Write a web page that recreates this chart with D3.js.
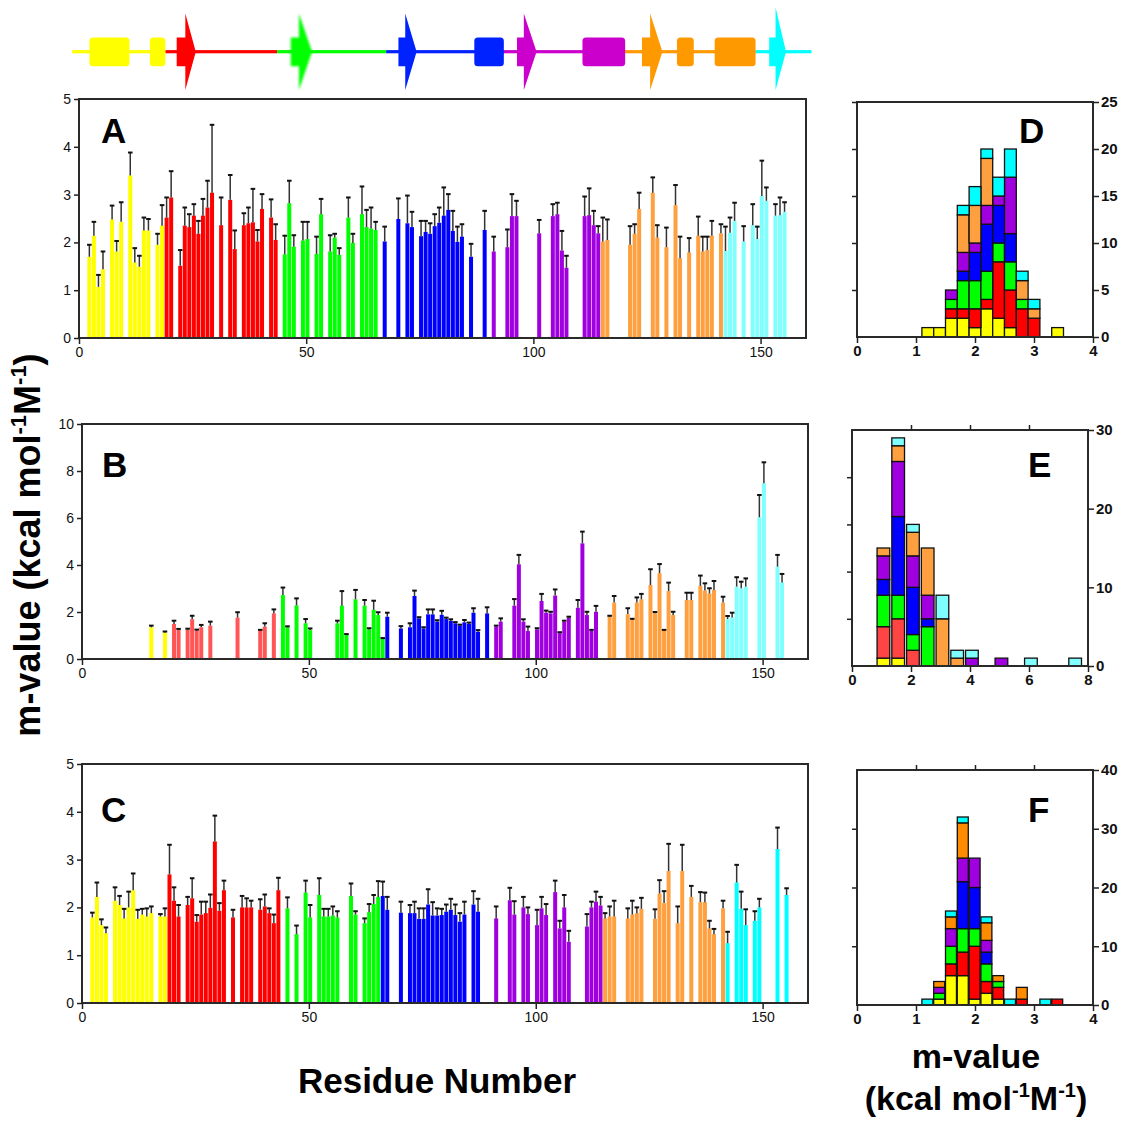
<!DOCTYPE html>
<html>
<head>
<meta charset="utf-8">
<script src="https://cdn.jsdelivr.net/npm/d3@7"></script>
<style>
  body { margin: 0; background: #fff; }
  svg { display: block; }
</style>
</head>
<body>
<svg id="fig" width="1124" height="1122"></svg>
<script>
// ---------- structural element groups (N- to C-terminus) ----------
const groups = ["yellow", "red", "green", "blue", "purple", "orange", "cyan"];

// first residue of each group, per panel
const segStartsA = [1, 19, 44, 66, 90, 115, 142];
const segStartsB = [1, 19, 44, 67, 90, 115, 142];
const segStartsC = [1, 19, 44, 66, 90, 115, 142];

// ---------- topology cartoon (residue units) ----------
const topoBreaks = [-1.5, 19.0, 43.6, 67.6, 93.5, 120.2, 148.9, 161.2];
const helixStart = [2.3, 15.6, 87.0, 110.8, 131.6, 139.9];
const helixEnd   = [11.1, 19.0, 93.5, 120.2, 135.3, 148.9];
const helixGroup = ["yellow", "yellow", "blue", "purple", "orange", "orange"];
const strandStart = [21.5, 46.6, 70.3, 96.4, 123.9, 151.9];
const strandHead  = [23.4, 48.4, 71.8, 97.9, 125.7, 153.3];
const strandTip   = [25.7, 51.3, 74.3, 100.7, 128.4, 155.6];
const strandGroup = ["red", "green", "blue", "purple", "orange", "cyan"];

// ---------- panel A ----------
const resA = [2,3,4,5,7,8,9,11,12,13,14,15,17,18,19,20,22,23,24,25,26,27,28,29,31,33,34,36,37,38,39,40,42,43,
  45,46,47,49,50,52,53,55,56,57,59,60,62,63,64,65,67,70,72,73,75,76,77,78,79,80,81,82,83,84,86,89,
  91,94,95,96,101,104,105,106,107,111,112,113,114,115,116,121,122,123,126,127,129,131,132,134,136,137,138,139,141,
  142,143,144,146,148,149,150,151,153,154,155];
const valA = [1.70,2.14,1.07,1.44,2.48,1.81,2.43,3.40,1.58,1.49,2.25,2.25,1.95,2.35,2.52,2.94,1.51,2.35,2.32,2.56,2.18,2.56,2.73,3.04,2.36,2.89,1.86,2.36,2.40,2.42,2.02,2.70,2.52,2.05,
  1.75,2.82,1.91,2.04,2.07,1.76,2.59,1.81,2.10,1.74,2.52,1.99,2.59,2.32,2.29,2.26,2.02,2.49,2.40,2.32,2.13,2.22,2.18,2.34,2.41,2.56,2.68,2.24,2.01,2.12,1.70,2.26,
  1.81,1.90,2.55,2.55,2.19,2.55,2.59,1.83,1.47,2.55,2.57,2.36,2.19,2.02,2.05,1.95,2.18,2.70,3.04,2.10,1.90,2.78,1.67,1.79,2.14,1.81,1.84,2.14,2.19,
  1.82,2.20,2.45,2.02,2.36,2.07,2.97,2.87,2.56,2.57,2.64];
const errA = [0.25,0.29,0.25,0.37,0.29,0.22,0.41,0.48,0.30,0.23,0.27,0.24,0.23,0.43,0.42,0.55,0.33,0.38,0.27,0.24,0.27,0.35,0.56,1.42,0.58,0.52,0.39,0.25,0.33,0.70,0.24,0.31,0.38,0.33,
  0.39,0.47,0.24,0.39,0.36,0.36,0.32,0.34,0.08,0.14,0.42,0.19,0.58,0.36,0.44,0.17,0.31,0.43,0.58,0.32,0.32,0.23,0.22,0.25,0.32,0.59,0.33,0.42,0.32,0.26,0.27,0.40,
  0.31,0.37,0.46,0.32,0.28,0.25,0.24,0.41,0.25,0.41,0.56,0.30,0.15,0.50,0.43,0.39,0.20,0.34,0.32,0.26,0.41,0.42,0.45,0.30,0.40,0.31,0.28,0.31,0.19,
  0.51,0.32,0.38,0.32,0.44,0.26,0.74,0.28,0.24,0.37,0.20];

// ---------- panel B ----------
const resB = [15,18,20,21,23,24,25,26,28,34,39,40,42,44,45,47,49,50,56,57,58,60,62,63,64,65,66,
  67,70,72,73,74,75,76,77,78,79,80,81,82,83,84,85,86,87,89,
  91,92,95,96,97,98,100,101,102,103,104,105,106,107,109,110,111,112,113,
  116,117,120,121,122,123,125,126,127,128,129,130,133,134,136,137,138,139,141,
  142,143,144,145,146,149,150,153,154];
const valB = [1.35,1.13,1.49,1.23,1.24,1.69,1.20,1.35,1.42,1.76,1.20,1.38,1.94,2.72,1.35,2.28,1.52,1.23,1.52,2.27,1.02,2.54,2.27,1.26,2.09,1.87,0.85,
  1.80,1.30,1.35,2.68,1.73,1.30,1.90,1.90,1.59,1.88,1.70,1.62,1.52,1.42,1.56,1.49,1.97,1.16,1.94,
  1.38,1.59,2.27,4.03,1.59,1.19,1.26,2.47,1.97,1.94,2.70,1.10,1.58,1.76,2.18,4.92,1.87,1.20,2.01,
  1.80,2.40,1.91,1.66,2.40,2.54,3.15,1.95,3.65,1.20,2.89,1.87,2.51,2.51,3.11,2.91,2.79,2.94,2.40,
  1.70,1.77,3.08,3.01,3.08,6.03,7.48,3.93,3.26];
const errB = [0.07,0.04,0.14,0.05,0.05,0.15,0.05,0.10,0.17,0.23,0.04,0.14,0.17,0.32,0.04,0.30,0.18,0.07,0.11,0.62,0.04,0.40,0.24,0.05,0.39,0.12,0.04,
  0.17,0.10,0.17,0.23,0.05,0.05,0.21,0.21,0.06,0.17,0.06,0.07,0.05,0.04,0.10,0.06,0.19,0.07,0.26,
  0.04,0.14,0.28,0.40,0.10,0.19,0.05,0.30,0.09,0.07,0.26,0.04,0.05,0.04,0.33,0.50,0.14,0.04,0.25,
  0.04,0.28,0.25,0.05,0.22,0.23,0.67,0.05,0.39,0.04,0.36,0.14,0.31,0.31,0.44,0.31,0.22,0.38,0.25,
  0.13,0.20,0.40,0.28,0.35,0.95,0.89,0.50,0.36];

// ---------- panel C ----------
const resC = [2,3,4,5,7,8,9,10,11,12,13,14,15,17,18,19,20,21,23,24,25,26,27,28,29,30,31,33,35,36,37,39,40,41,42,43,
  45,47,49,50,52,53,54,55,56,59,60,62,63,64,65,66,67,70,72,73,74,75,76,77,78,79,80,81,82,83,84,86,87,
  91,94,95,97,98,100,101,102,104,105,106,107,111,112,113,114,115,116,117,120,121,122,123,126,127,128,129,131,132,134,136,137,138,139,141,
  142,144,145,146,148,149,153,155];
const valC = [1.79,2.22,1.63,1.46,2.14,2.05,1.77,2.00,2.36,1.76,1.85,1.81,1.88,1.81,1.81,2.69,2.14,1.81,2.05,2.19,1.70,1.85,1.88,1.99,3.38,1.93,2.36,1.79,2.00,2.00,2.00,1.95,2.02,1.88,1.67,2.36,
  1.98,1.44,2.31,1.79,2.26,1.81,1.81,1.83,1.79,2.24,1.85,1.67,1.90,2.07,2.22,2.24,1.95,1.89,1.88,1.88,1.76,1.76,2.06,1.83,1.83,1.84,1.91,1.95,1.84,1.70,1.85,2.06,1.91,
  1.77,2.15,1.85,2.00,1.86,1.63,1.98,1.84,2.32,1.56,2.00,1.28,1.60,2.00,2.12,2.04,1.77,1.81,1.81,1.77,1.85,1.88,1.97,1.76,2.29,2.09,2.76,1.67,2.76,2.22,2.11,2.11,1.56,1.44,1.98,
  1.25,2.52,1.97,1.63,1.72,2.00,3.22,2.26];
const errC = [0.10,0.30,0.12,0.12,0.28,0.19,0.20,0.33,0.35,0.19,0.12,0.17,0.14,0.05,0.17,0.62,0.28,0.24,0.17,0.42,0.14,0.27,0.24,0.28,0.54,0.16,0.20,0.16,0.24,0.19,0.14,0.22,0.25,0.10,0.18,0.26,
  0.23,0.18,0.25,0.26,0.35,0.16,0.16,0.19,0.13,0.26,0.07,0.10,0.17,0.19,0.33,0.30,0.27,0.23,0.17,0.24,0.22,0.22,0.32,0.28,0.15,0.13,0.15,0.23,0.22,0.18,0.27,0.28,0.27,
  0.25,0.26,0.28,0.22,0.14,0.32,0.24,0.23,0.24,0.16,0.26,0.23,0.26,0.12,0.21,0.18,0.11,0.21,0.33,0.21,0.29,0.12,0.23,0.20,0.28,0.25,0.57,0.35,0.55,0.23,0.21,0.20,0.16,0.11,0.16,
  0.24,0.37,0.36,0.33,0.20,0.18,0.45,0.14];

const residueTicks = [0, 50, 100, 150];

// ---------- histogram D (bins of 0.2) ----------
const binsD = [1.1, 1.3, 1.5, 1.7, 1.9, 2.1, 2.3, 2.5, 2.7, 2.9, 3.3];
const dYellow = [1, 1, 2, 2, 1, 3, 2, 1, 0, 0, 1];
const dRed    = [0, 0, 1, 1, 2, 1, 6, 4, 3, 2, 0];
const dGreen  = [0, 0, 1, 3, 3, 3, 2, 3, 1, 0, 0];
const dBlue   = [0, 0, 0, 1, 3, 5, 4, 3, 0, 0, 0];
const dPurple = [0, 0, 1, 2, 1, 2, 1, 6, 0, 0, 0];
const dOrange = [0, 0, 0, 4, 4, 5, 0, 0, 2, 1, 0];
const dCyan   = [0, 0, 0, 1, 2, 1, 2, 3, 1, 1, 0];

// ---------- histogram E (bins of 0.5) ----------
const binsE = [0.85, 1.35, 1.85, 2.35, 2.85, 3.35, 3.85, 4.85, 5.85, 7.35];
const eYellow = [1, 1, 0, 0, 0, 0, 0, 0, 0, 0];
const eRed    = [4, 5, 2, 0, 0, 0, 0, 0, 0, 0];
const eGreen  = [4, 3, 2, 5, 0, 0, 0, 0, 0, 0];
const eBlue   = [2, 10, 6, 1, 0, 0, 0, 0, 0, 0];
const ePurple = [3, 7, 4, 3, 0, 0, 1, 1, 0, 0];
const eOrange = [1, 2, 3, 6, 6, 1, 0, 0, 0, 0];
const eCyan   = [0, 1, 1, 0, 3, 1, 1, 0, 1, 1];

// ---------- histogram F (bins of 0.2) ----------
const binsF = [1.1, 1.3, 1.5, 1.7, 1.9, 2.1, 2.3, 2.5, 2.7, 3.1, 3.3];
const fYellow = [0, 1, 5, 5, 1, 2, 1, 0, 0, 0, 0];
const fRed    = [0, 0, 2, 4, 9, 2, 2, 0, 1, 0, 1];
const fGreen  = [0, 1, 3, 4, 3, 3, 1, 0, 0, 0, 0];
const fBlue   = [0, 0, 0, 8, 7, 2, 0, 0, 0, 0, 0];
const fPurple = [0, 1, 3, 4, 5, 2, 0, 0, 0, 0, 0];
const fOrange = [0, 1, 2, 6, 0, 3, 1, 0, 2, 0, 0];
const fCyan   = [1, 0, 1, 1, 0, 1, 0, 1, 0, 1, 0];

// ---------- colours ----------
const baseColours = { yellow: "#FFFF00", red: "#FF0000", green: "#00FF00", blue: "#0000FF",
                      purple: "#A000E0", orange: "#FFA040", cyan: "#80FFFF" };
const coloursA = baseColours;
const coloursB = Object.assign({}, baseColours, { red: "#FF5555" });
const coloursC = Object.assign({}, baseColours, { cyan: "#00FFFF" });
const coloursD = Object.assign({}, baseColours, { cyan: "#00FFFF" });
const coloursE = Object.assign({}, baseColours, { red: "#FF4444" });
const coloursF = Object.assign({}, baseColours, { orange: "#FF8C00", cyan: "#00FFFF" });
const topoColours = { yellow: "#FFFF00", red: "#FF0000", green: "#00FF00", blue: "#0022FF",
                      purple: "#CC00CC", orange: "#FF9900", cyan: "#00FFFF" };

const FONT = "'Liberation Sans', Arial, Helvetica, sans-serif";
const intFmt = d3.format("d");
const svg = d3.select("#fig");

const defs = svg.append("defs");
defs.append("filter").attr("id", "soft").attr("x", "-20%").attr("y", "-20%").attr("width", "140%").attr("height", "140%")
  .append("feGaussianBlur").attr("stdDeviation", 0.9);

function groupOf(r, starts) {
  let k = 0;
  starts.forEach((s, i) => { if (r >= s) k = i; });
  return groups[k];
}

function styleAxis(g, size, weight) {
  g.select(".domain").remove();
  g.selectAll(".tick line").attr("stroke", "#222").attr("stroke-width", 1.5);
  g.selectAll(".tick text").attr("fill", "#111").attr("font-size", size)
    .attr("font-weight", weight).attr("font-family", FONT);
}

// ---------- topology cartoon ----------
(function drawTopology() {
  const x = d3.scaleLinear().domain([0, 160]).range([79, 806]);
  const yMid = 51.7, lineHalf = 1.6;
  const helixTop = 37.5, helixBot = 66.3, headTop = 13.5, headBot = 90;
  const g = svg.append("g");

  const segs = groups.map((name, i) => ({ name, a: topoBreaks[i], b: topoBreaks[i + 1] }));
  g.selectAll("rect.loop").data(segs).join("rect")
    .attr("x", d => x(d.a)).attr("width", d => x(d.b) - x(d.a))
    .attr("y", yMid - lineHalf).attr("height", 2 * lineHalf)
    .attr("fill", d => topoColours[d.name]);

  const helices = helixStart.map((s, i) => ({ s, e: helixEnd[i], name: helixGroup[i] }));
  g.selectAll("rect.helix").data(helices).join("rect")
    .attr("x", d => x(d.s)).attr("width", d => x(d.e) - x(d.s))
    .attr("y", helixTop).attr("height", helixBot - helixTop)
    .attr("rx", 3.5).attr("fill", d => topoColours[d.name]);

  const strands = strandStart.map((s, i) => ({ s, h: strandHead[i], t: strandTip[i], name: strandGroup[i] }));
  g.selectAll("path.strand").data(strands).join("path")
    .attr("d", d => {
      const p = d3.path();
      p.moveTo(x(d.s), helixTop);
      p.lineTo(x(d.h), helixTop);
      p.lineTo(x(d.h), d.name === "cyan" ? headTop - 6 : headTop);
      p.lineTo(x(d.t), yMid);
      p.lineTo(x(d.h), headBot);
      p.lineTo(x(d.h), helixBot);
      p.lineTo(x(d.s), helixBot);
      p.closePath();
      return p.toString();
    })
    .attr("fill", d => topoColours[d.name])
    .attr("filter", d => d.name === "green" ? "url(#soft)" : null);
})();

// ---------- residue bar panels ----------
function barPanel(cfg) {
  const x = d3.scaleLinear().domain([0, 160]).range([cfg.left, cfg.right]);
  const y = d3.scaleLinear().domain([0, cfg.ymax]).range([cfg.bottom, cfg.top]);
  const g = svg.append("g");
  const data = cfg.res.map((r, i) => ({ r, v: cfg.val[i], e: cfg.err[i] }));
  const bw = x(0.88) - x(0);

  g.selectAll("rect.bar").data(data).join("rect")
    .attr("x", d => x(d.r - 0.16)).attr("width", bw)
    .attr("y", d => y(d.v)).attr("height", d => y(0) - y(d.v))
    .attr("fill", d => cfg.colours[groupOf(d.r, cfg.starts)]);

  const cx = d => x(d.r - 0.16) + bw / 2;
  g.selectAll("line.stem").data(data).join("line")
    .attr("x1", cx).attr("x2", cx)
    .attr("y1", d => y(d.v)).attr("y2", d => y(d.v + d.e))
    .attr("stroke", "#333").attr("stroke-width", 1.5);
  g.selectAll("line.cap").data(data).join("line")
    .attr("x1", d => cx(d) - 2.3).attr("x2", d => cx(d) + 2.3)
    .attr("y1", d => y(d.v + d.e)).attr("y2", d => y(d.v + d.e))
    .attr("stroke", "#111").attr("stroke-width", 2);

  g.append("rect")
    .attr("x", cfg.left).attr("y", cfg.top)
    .attr("width", cfg.right - cfg.left).attr("height", cfg.bottom - cfg.top)
    .attr("fill", "none").attr("stroke", "#2a2a2a").attr("stroke-width", 2);

  g.append("g").attr("transform", `translate(${cfg.left},0)`)
    .call(d3.axisLeft(y).tickValues(cfg.yticks).tickFormat(intFmt).tickSize(5).tickPadding(3).tickSizeOuter(0))
    .call(a => styleAxis(a, 14, "normal"));
  g.append("g").attr("transform", `translate(0,${cfg.bottom})`)
    .call(d3.axisBottom(x).tickValues(residueTicks).tickFormat(intFmt).tickSize(6).tickPadding(3).tickSizeOuter(0))
    .call(a => styleAxis(a, 14, "normal"));

  g.append("text").attr("x", cfg.labelX).attr("y", cfg.labelY)
    .attr("font-family", FONT).attr("font-weight", "bold").attr("font-size", 35)
    .text(cfg.label);
}

barPanel({ res: resA, val: valA, err: errA, starts: segStartsA, colours: coloursA,
  left: 79, right: 806, top: 99, bottom: 338, ymax: 5, yticks: [0, 1, 2, 3, 4, 5],
  label: "A", labelX: 101, labelY: 143 });
barPanel({ res: resB, val: valB, err: errB, starts: segStartsB, colours: coloursB,
  left: 82, right: 808, top: 424, bottom: 659, ymax: 10, yticks: [0, 2, 4, 6, 8, 10],
  label: "B", labelX: 102, labelY: 477 });
barPanel({ res: resC, val: valC, err: errC, starts: segStartsC, colours: coloursC,
  left: 82, right: 808, top: 764, bottom: 1003, ymax: 5, yticks: [0, 1, 2, 3, 4, 5],
  label: "C", labelX: 101, labelY: 822 });

// ---------- stacked histograms ----------
function histPanel(cfg) {
  const x = d3.scaleLinear().domain([0, cfg.xmax]).range([cfg.left, cfg.right]);
  const y = d3.scaleLinear().domain([0, cfg.ymax]).range([cfg.bottom, cfg.top]);
  const g = svg.append("g");

  const rows = cfg.bins.map((b, i) => {
    const row = { bin: b };
    groups.forEach((name, k) => { row[name] = cfg.counts[k][i]; });
    return row;
  });
  const series = d3.stack().keys(groups)(rows);

  series.forEach(s => {
    g.selectAll(null).data(s.filter(d => d[1] > d[0])).join("rect")
      .attr("x", d => x(d.data.bin))
      .attr("width", x(cfg.binWidth * cfg.fill) - x(0))
      .attr("y", d => y(d[1])).attr("height", d => y(d[0]) - y(d[1]))
      .attr("fill", cfg.colours[s.key])
      .attr("stroke", "#111").attr("stroke-width", 1.3);
  });

  g.append("rect")
    .attr("x", cfg.left).attr("y", cfg.top)
    .attr("width", cfg.right - cfg.left).attr("height", cfg.bottom - cfg.top)
    .attr("fill", "none").attr("stroke", "#2a2a2a").attr("stroke-width", 2);

  g.append("g").attr("transform", `translate(0,${cfg.bottom})`)
    .call(d3.axisBottom(x).tickValues(cfg.xticks).tickFormat(intFmt).tickSize(6).tickPadding(2).tickSizeOuter(0))
    .call(a => styleAxis(a, 15, "bold"));
  g.append("g").attr("transform", `translate(${cfg.right},0)`)
    .call(d3.axisRight(y).tickValues(cfg.rightTicks).tickFormat(intFmt).tickSize(6).tickPadding(2).tickSizeOuter(0))
    .call(a => styleAxis(a, 15, "bold"));
  g.append("g").attr("transform", `translate(${cfg.left},0)`)
    .call(d3.axisLeft(y).tickValues(cfg.leftTicks).tickSize(5).tickFormat("").tickSizeOuter(0))
    .call(a => styleAxis(a, 15, "bold"));
  g.append("g").attr("transform", `translate(0,${cfg.top})`)
    .call(d3.axisTop(x).tickValues(cfg.topTicks).tickSize(5).tickFormat("").tickSizeOuter(0))
    .call(a => styleAxis(a, 15, "bold"));

  g.append("text").attr("x", cfg.labelX).attr("y", cfg.labelY)
    .attr("font-family", FONT).attr("font-weight", "bold").attr("font-size", 35)
    .text(cfg.label);
}

histPanel({ bins: binsD, binWidth: 0.2, fill: 1,
  counts: [dYellow, dRed, dGreen, dBlue, dPurple, dOrange, dCyan], colours: coloursD,
  left: 857, right: 1093, top: 102, bottom: 337, xmax: 4, ymax: 25,
  xticks: [0, 1, 2, 3, 4], rightTicks: [0, 5, 10, 15, 20, 25], leftTicks: [5, 10, 15, 20, 25], topTicks: [],
  label: "D", labelX: 1019, labelY: 143 });
histPanel({ bins: binsE, binWidth: 0.5, fill: 0.86,
  counts: [eYellow, eRed, eGreen, eBlue, ePurple, eOrange, eCyan], colours: coloursE,
  left: 852, right: 1088, top: 430, bottom: 666, xmax: 8, ymax: 30,
  xticks: [0, 2, 4, 6, 8], rightTicks: [0, 10, 20, 30], leftTicks: [6, 12, 18, 24], topTicks: [2, 4, 6],
  label: "E", labelX: 1028, labelY: 477 });
histPanel({ bins: binsF, binWidth: 0.2, fill: 0.93,
  counts: [fYellow, fRed, fGreen, fBlue, fPurple, fOrange, fCyan], colours: coloursF,
  left: 857, right: 1093, top: 770, bottom: 1005, xmax: 4, ymax: 40,
  xticks: [0, 1, 2, 3, 4], rightTicks: [0, 10, 20, 30, 40], leftTicks: [10, 20, 30], topTicks: [1, 2, 3],
  label: "F", labelX: 1028, labelY: 822 });

// ---------- axis titles ----------
function unitsText(sel, size) {
  const sup = Math.round(size * 0.6), rise = Math.round(size * 0.38);
  sel.append("tspan").text("(kcal mol");
  sel.append("tspan").attr("font-size", sup).attr("dy", -rise).text("-1");
  sel.append("tspan").attr("dy", rise).text("M");
  sel.append("tspan").attr("font-size", sup).attr("dy", -rise).text("-1");
  sel.append("tspan").attr("dy", rise).text(")");
}

const yTitle = svg.append("text")
  .attr("transform", "translate(40,545) rotate(-90)")
  .attr("text-anchor", "middle")
  .attr("font-family", FONT).attr("font-weight", "bold").attr("font-size", 36);
yTitle.append("tspan").text("m-value ");
unitsText(yTitle, 36);

svg.append("text").attr("x", 437).attr("y", 1093).attr("text-anchor", "middle")
  .attr("font-family", FONT).attr("font-weight", "bold").attr("font-size", 35)
  .text("Residue Number");

svg.append("text").attr("x", 976).attr("y", 1068).attr("text-anchor", "middle")
  .attr("font-family", FONT).attr("font-weight", "bold").attr("font-size", 34)
  .text("m-value");
const hUnits = svg.append("text").attr("x", 976).attr("y", 1110).attr("text-anchor", "middle")
  .attr("font-family", FONT).attr("font-weight", "bold").attr("font-size", 34);
unitsText(hUnits, 34);
</script>
</body>
</html>
